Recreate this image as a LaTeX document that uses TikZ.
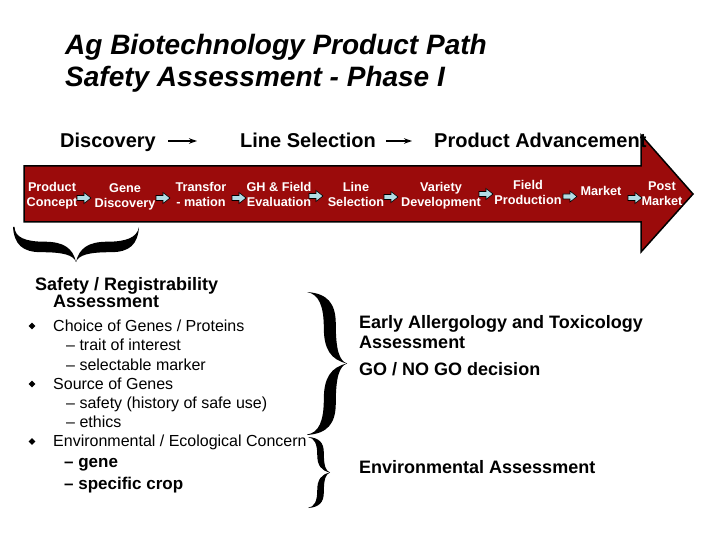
\documentclass[tikz,border=0pt]{standalone}
\usepackage{fontspec}
\setmainfont{Liberation Sans}
\usetikzlibrary{shapes.geometric,arrows.meta,calc}
\definecolor{barred}{HTML}{9B0B0B}
\definecolor{arrblue}{HTML}{B2DCE4}
\newcommand{\two}[2]{\begin{tabular}[t]{@{}c@{}}#1\\#2\end{tabular}}
\newcommand{\bracepath}{(0,1) .. controls (0.5,0.98) and (0.72,0.85) .. (0.72,0.55) .. controls (0.72,0.2) and (0.8,0.04) .. (1,0) .. controls (0.8,-0.04) and (0.72,-0.2) .. (0.72,-0.55) .. controls (0.72,-0.85) and (0.5,-0.98) .. (0,-1) .. controls (0.3,-0.97) and (0.42,-0.8) .. (0.42,-0.5) .. controls (0.42,-0.2) and (0.6,-0.05) .. (1,0) .. controls (0.6,0.05) and (0.42,0.2) .. (0.42,0.5) .. controls (0.42,0.8) and (0.3,0.97) .. cycle}
\begin{document}
\begin{tikzpicture}[x=1pt,y=-1pt,
  ttl/.style={anchor=base west, inner sep=0, font=\fontsize{28}{32}\selectfont\bfseries\itshape},
  hdr/.style={anchor=base west, inner sep=0, font=\fontsize{20}{24}\selectfont\bfseries},
  bartxt/.style={anchor=base, text=white, inner sep=0, font=\fontsize{12.7}{15}\selectfont\bfseries},
  lhead/.style={anchor=base west, inner sep=0, font=\fontsize{18}{12}\selectfont\bfseries},
  itm/.style={anchor=base west, inner sep=0, font=\fontsize{16}{19}\selectfont},
  bitm/.style={anchor=base west, inner sep=0, font=\fontsize{17}{20}\selectfont\bfseries},
  rtxt/.style={anchor=base west, inner sep=0, font=\fontsize{18}{20}\selectfont\bfseries},
  bul/.style={diamond, fill=black, inner sep=0, minimum size=7pt},
  hdrarrow/.style={line width=1.3pt, -{Stealth[length=8pt,width=5.5pt]}},
  sarrow/.pic={\draw[fill=arrblue, draw=black, line width=0.6pt] (-7,-2.5) -- (0,-2.5) -- (0,-5.5) -- (7,0) -- (0,5.5) -- (0,2.5) -- (-7,2.5) -- cycle;}
]
\useasboundingbox (0,0) rectangle (720,540);
% title
\node[ttl] (t1) at (65,55) {Ag Biotechnology Product Path};
\node[ttl] (t2) at (65,87) {Safety Assessment - Phase I};
% header
\node[hdr] (hd) at (60,147.5) {Discovery};
\node[hdr] (hl) at (240,147.5) {Line Selection};
\draw[hdrarrow] ($(hd.base east)+(12,-6.5)$) -- ($(hl.base west)+(-43,-6.5)$);
% big arrow
\draw[fill=barred, draw=black, line width=1.5pt, line join=miter] (24,166) -- (641,166) -- (641,135) -- (693,194) -- (641,252) -- (641,222) -- (24,222) -- cycle;
\node[hdr] (hp) at (434,147.5) {Product Advancement};
\draw[hdrarrow] ($(hl.base east)+(10,-6.5)$) -- ($(hp.base west)+(-22,-6.5)$);
% bar steps
\node[bartxt] (pc) at (52,192) {\two{Product}{Concept}};
\node[bartxt] (gd) at (125,193) {\two{Gene}{Discovery}};
\node[bartxt] (tr) at (201,192) {\two{Transfor}{- mation}};
\node[bartxt] (gh) at (279,192) {\two{GH \& Field}{Evaluation}};
\node[bartxt] (ls) at (356,192) {\two{Line}{Selection}};
\node[bartxt] (vd) at (441,191.5) {\two{Variety}{Development}};
\node[bartxt] (fp) at (528,189.5) {\two{Field}{Production}};
\node[bartxt] (mk) at (601,196) {Market};
\node[bartxt] (pm) at (662,190.5) {\two{Post}{Market}};
\pic (a1) at (84,198) {sarrow};
\pic (a2) at (163,198) {sarrow};
\pic (a3) at (239,198) {sarrow};
\pic (a4) at (316,196) {sarrow};
\pic (a5) at (391,197) {sarrow};
\pic (a6) at (486,194) {sarrow};
\pic (a7) at (570,196.5) {sarrow};
\pic (a8) at (635,198) {sarrow};
% brace under bar
\begin{scope}[shift={(76,227)}, rotate=-90, xscale=35, yscale=63]
  \fill \bracepath;
\end{scope}
% left list
\node[lhead] (sr) at (35,290.5) {\begin{tabular}[t]{@{}l@{}}Safety / Registrability\\[1pt]\hspace*{18pt}Assessment\end{tabular}};
\node[bul] (b1) at (32,326) {};
\node[itm] (i1) at (53,331.5) {Choice of Genes / Proteins};
\node[itm] (i1a) at (66,350.7) {– trait of interest};
\node[itm] (i1b) at (66,370) {– selectable marker};
\node[bul] (b2) at (32,384) {};
\node[itm] (i2) at (53,389.2) {Source of Genes};
\node[itm] (i2a) at (66,408.4) {– safety (history of safe use)};
\node[itm] (i2b) at (66,427.6) {– ethics};
\node[bul] (b3) at (32,441.5) {};
\node[itm] (i3) at (53,446.8) {Environmental / Ecological Concern};
\node[bitm] (i3a) at (64,467) {– gene};
\node[bitm] (i3b) at (64,489.5) {– specific crop};
% right braces
\begin{scope}[shift={(307,363.5)}, xscale=40, yscale=71.5]
  \fill \bracepath;
\end{scope}
\begin{scope}[shift={(308,472.5)}, xscale=22, yscale=35.5]
  \fill \bracepath;
\end{scope}
% right text
\node[rtxt] (r1) at (359,328.3) {Early Allergology and Toxicology};
\node[rtxt] (r2) at (359,348.3) {Assessment};
\node[rtxt] (r3) at (359,375) {GO / NO GO decision};
\node[rtxt] (r4) at (359,473.3) {Environmental Assessment};
\end{tikzpicture}
\end{document}
